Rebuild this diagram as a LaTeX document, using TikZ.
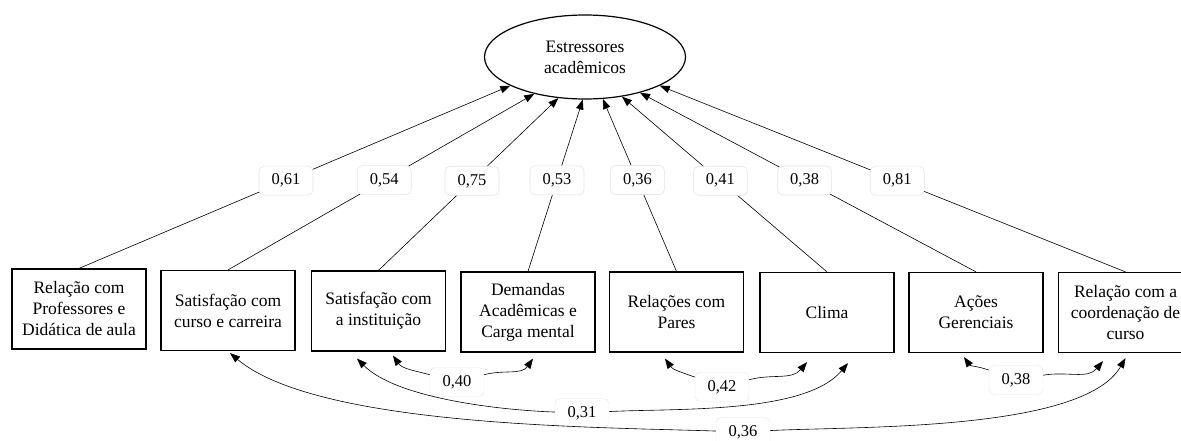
\documentclass[tikz,border=0pt]{standalone}
\usepackage{fontspec}
\setmainfont{Liberation Serif}
\usetikzlibrary{arrows.meta,shapes.geometric}
\begin{document}
\begin{tikzpicture}[x=1pt,y=1pt,
  boxn/.style={draw,line width=1.2pt,minimum width=134pt,minimum height=80pt,align=center,inner sep=2pt,font=\fontsize{17.5}{21}\selectfont},
  lbl/.style={fill=white,draw=black!10,rounded corners=5pt,minimum width=54pt,minimum height=29pt,inner sep=1pt,font=\fontsize{16.5}{19}\selectfont},
  conn/.style={line width=0.6pt,-{Triangle[length=10pt,width=7.5pt]}},
  covs/.style={line width=0.6pt,{Triangle[length=10pt,width=7.5pt]}-},
  cove/.style={line width=0.6pt,-{Triangle[length=10pt,width=7.5pt]}}]
\useasboundingbox (0,0) rectangle (1181,-441);
\node[ellipse,draw,line width=1.2pt,minimum width=201pt,minimum height=84pt,align=center,font=\fontsize{17.5}{21}\selectfont] (E) at (585,-57) {Estressores\\acadêmicos};
\node[boxn] (b1) at (79,-309) {Relação com\\Professores e\\Didática de aula};
\node[boxn] (b2) at (228,-310.5) {Satisfação com\\curso e carreira};
\node[boxn] (b3) at (378.5,-311) {Satisfação com\\a instituição};
\node[boxn] (b4) at (528,-312) {Demandas\\Acadêmicas e\\Carga mental};
\node[boxn] (b5) at (676.5,-312) {Relações com\\Pares};
\node[boxn] (b6) at (827,-312.5) {Clima};
\node[boxn] (b7) at (976,-312.5) {Ações\\Gerenciais};
\node[boxn] (b8) at (1125.5,-312.5) {Relação com a\\coordenação de\\curso};
\draw[conn] (b1.north) -- (E.201.7) node[lbl,pos=0.48]{0,61};
\draw[conn] (b2.north) -- (E.216.2) node[lbl,pos=0.51]{0,54};
\draw[conn] (b3.north) -- (E.237.3) node[lbl,pos=0.52]{0,75};
\draw[conn] (b4.north) -- (E.267.3) node[lbl,pos=0.53]{0,53};
\draw[conn] (b5.north) -- (E.293.2) node[lbl,pos=0.53]{0,36};
\draw[conn] (b6.north) -- (E.313.5) node[lbl,pos=0.52]{0,41};
\draw[conn] (b7.north) -- (E.327.5) node[lbl,pos=0.51]{0,38};
\draw[conn] (b8.north) -- (E.339.4) node[lbl,pos=0.49]{0,81};
\node[lbl] (c40) at (457,-382) {0,40};
\node[lbl] (c31) at (582,-413) {0,31};
\node[lbl] (c36) at (743,-432) {0,36};
\node[lbl] (c42) at (722,-387) {0,42};
\node[lbl] (c38) at (1016,-380) {0,38};
\draw[covs] ([xshift=14.5pt,yshift=-4pt]b3.south) to[out=-55,in=165] (c40);
\draw[cove] (c40) to[out=15,in=-125] ([xshift=5pt,yshift=-6pt]b4.south);
\draw[covs] ([xshift=-21.5pt,yshift=-7pt]b3.south) to[out=-45,in=178,looseness=0.7] (c31);
\draw[cove] (c31) to[out=3,in=-130,looseness=0.7] ([xshift=21pt,yshift=-10pt]b6.south);
\draw[covs] ([xshift=2pt,yshift=-2pt]b2.south) to[out=-40,in=178,looseness=0.6] (c36);
\draw[cove] (c36) to[out=3,in=-120,looseness=0.6] ([xshift=0pt,yshift=-5pt]b8.south);
\draw[covs] ([xshift=-11.5pt,yshift=-6pt]b5.south) to[out=-55,in=160] (c42);
\draw[cove] (c42) to[out=15,in=-130] ([xshift=-20pt,yshift=-9pt]b6.south);
\draw[covs] ([xshift=-12pt,yshift=-4pt]b7.south) to[out=-55,in=160] (c38);
\draw[cove] (c38) to[out=10,in=-130] ([xshift=-22.5pt,yshift=-8pt]b8.south);
\end{tikzpicture}
\end{document}
